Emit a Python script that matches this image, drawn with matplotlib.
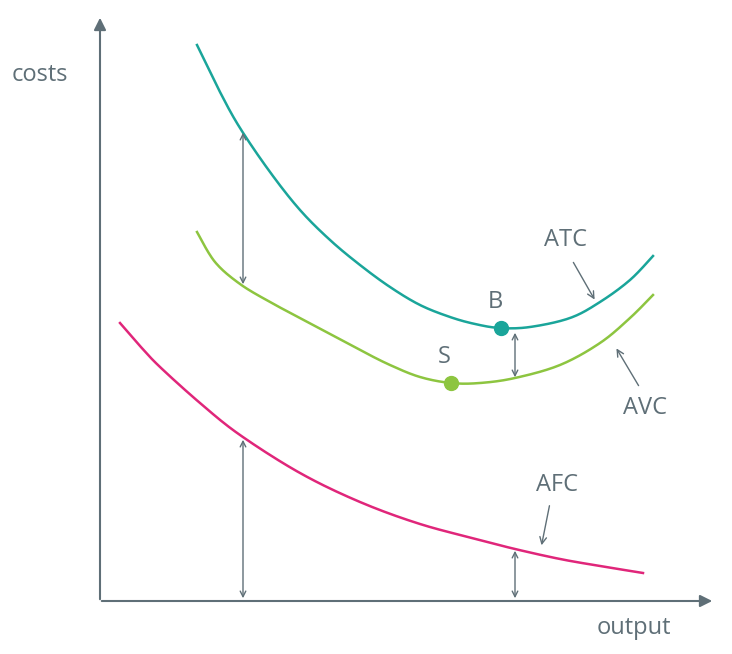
import numpy as np
import matplotlib.pyplot as plt

# values (screen-like units, y grows downward)
atc_x = [197, 220, 240, 270, 300, 330, 360, 390, 420, 450, 475, 500, 530, 570, 600, 630, 653]
atc_y = [45, 92, 128, 172, 210, 240, 265, 287, 305, 317, 324, 328, 327, 318, 302, 280, 256]
avc_x = [197, 215, 240, 270, 300, 330, 360, 390, 420, 451, 480, 515, 560, 600, 630, 653]
avc_y = [232, 262, 284, 302, 318, 334, 350, 365, 377, 383, 383, 378, 365, 343, 318, 295]
afc_x = [120, 140, 160, 200, 240, 300, 360, 420, 480, 515, 560, 600, 643]
afc_y = [323, 346, 367, 403, 435, 473, 502, 524, 540, 549, 559, 566, 573]

teal = '#1aa59a'
green = '#8dc540'
pink = '#e0267a'
gray = '#5f6f77'
plt.rcParams['font.family'] = ['Open Sans', 'DejaVu Sans']


def smooth(xs, ys, n=20):
    # Catmull-Rom drawing through the read points
    p = np.column_stack([xs, ys]).astype(float)
    p = np.vstack([p[0], p, p[-1]])
    out = []
    t = np.linspace(0, 1, n, endpoint=False)[:, None]
    for i in range(1, len(p) - 2):
        p0, p1, p2, p3 = p[i - 1], p[i], p[i + 1], p[i + 2]
        out.append(0.5 * (2 * p1 + (-p0 + p2) * t + (2 * p0 - 5 * p1 + 4 * p2 - p3) * t ** 2
                          + (-p0 + 3 * p1 - 3 * p2 + p3) * t ** 3))
    out.append(p[-2][None, :])
    out = np.vstack(out)
    return out[:, 0], out[:, 1]


fig = plt.figure(figsize=(7.32, 6.54), dpi=100)
ax = fig.add_axes([0, 0, 1, 1])
ax.set_xlim(0, 732)
ax.set_ylim(654, 0)
ax.axis('off')

# axes
ax.annotate('', xy=(100, 15), xytext=(100, 602),
            arrowprops=dict(arrowstyle='-|>', color=gray, lw=1.5, mutation_scale=18))
ax.annotate('', xy=(715, 601), xytext=(99, 601),
            arrowprops=dict(arrowstyle='-|>', color=gray, lw=1.5, mutation_scale=18))
ax.text(12, 75, 'costs', fontsize=17, color=gray, va='center')
ax.text(597, 628, 'output', fontsize=17, color=gray, va='center')

ax.plot(*smooth(atc_x, atc_y), color=teal, lw=1.8)
ax.plot(*smooth(avc_x, avc_y), color=green, lw=1.8)
ax.plot(*smooth(afc_x, afc_y), color=pink, lw=1.8)

ax.plot(501, 328, 'o', color=teal, ms=10)
ax.plot(451, 383, 'o', color=green, ms=10)
ax.text(495, 302, 'B', fontsize=17, color=gray, ha='center', va='center')
ax.text(444, 357, 'S', fontsize=17, color=gray, ha='center', va='center')

# double arrows showing distances
for x, y0, y1 in [(243, 130, 287), (515, 330, 380), (243, 437, 601), (515, 548, 601)]:
    ax.annotate('', xy=(x, y0), xytext=(x, y1),
                arrowprops=dict(arrowstyle='<->', color=gray, lw=1, mutation_scale=10))

# curve labels
for label, tx, ty, ax0, ay0, ax1, ay1 in [('ATC', 565, 240, 572, 260, 596, 302),
                                          ('AVC', 645, 408, 640, 388, 615, 346),
                                          ('AFC', 557, 485, 550, 503, 541, 548)]:
    ax.text(tx, ty, label, fontsize=17, color=gray, ha='center', va='center')
    ax.annotate('', xy=(ax1, ay1), xytext=(ax0, ay0),
                arrowprops=dict(arrowstyle='->', color=gray, lw=1, mutation_scale=12))

fig.savefig('out.png', dpi=100)
